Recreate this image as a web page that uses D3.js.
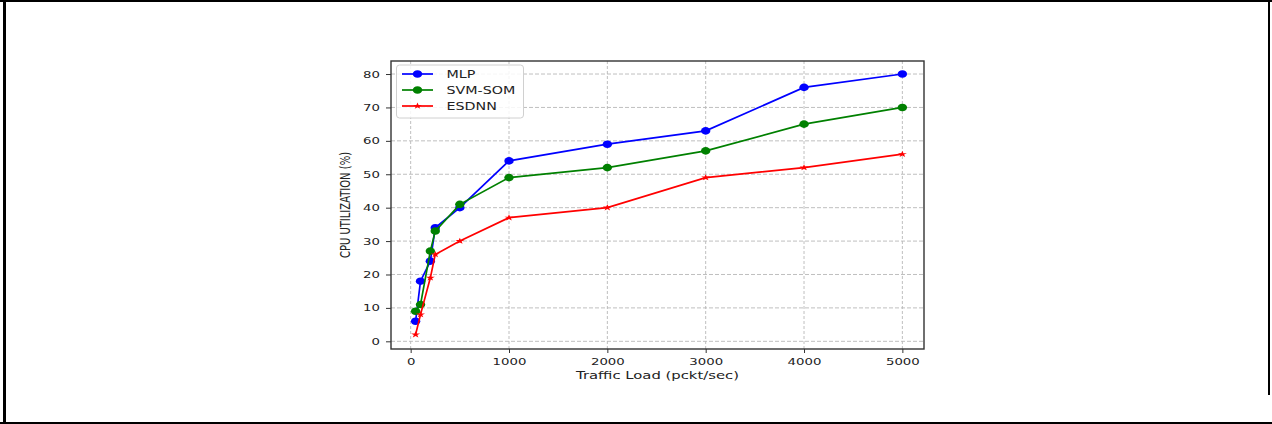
<!DOCTYPE html>
<html>
<head>
<meta charset="utf-8">
<script src="https://cdn.jsdelivr.net/npm/d3@7"></script>
<style>
html,body{margin:0;padding:0;background:#fff;}
svg{display:block;}
text{font-family:"DejaVu Sans",sans-serif;fill:#222;}
</style>
</head>
<body>
<svg id="chart" width="1272" height="424"></svg>
<script>
const trafficLoad = [50, 100, 200, 250, 500, 1000, 2000, 3000, 4000, 5000];
const mlp    = [6, 18, 24, 34, 40, 54, 59, 63, 76, 80];
const svmSom = [9, 11, 27, 33, 41, 49, 52, 57, 65, 70];
const esdnn  = [2, 8, 19, 26, 30, 37, 40, 49, 52, 56];
const seriesNames = ["MLP", "SVM-SOM", "ESDNN"];
const xTicks = [0, 1000, 2000, 3000, 4000, 5000];
const yTicks = [0, 10, 20, 30, 40, 50, 60, 70, 80];
const xLabel = "Traffic Load (pckt/sec)";
const yLabel = "CPU UTILIZATION (%)";

const series = [
  {name: seriesNames[0], values: mlp, color: "#0000ff", marker: "circle"},
  {name: seriesNames[1], values: svmSom, color: "#008000", marker: "circle"},
  {name: seriesNames[2], values: esdnn, color: "#ff0000", marker: "star"}
];

const SX = 1.4; // horizontal stretch of the original figure
const svg = d3.select("#chart");

// outer frame
svg.append("rect").attr("x",0).attr("y",0).attr("width",1272).attr("height",2).attr("fill","#000");
svg.append("rect").attr("x",3).attr("y",0).attr("width",3).attr("height",424).attr("fill","#000");
svg.append("rect").attr("x",0).attr("y",422).attr("width",1272).attr("height",2).attr("fill","#000");
svg.append("rect").attr("x",1268).attr("y",0).attr("width",2).attr("height",395).attr("fill","#000");

const L = 391, R = 924, T = 61, B = 349;
const x = d3.scaleLinear().domain([-200, 5220]).range([L, R]);
const y = d3.scaleLinear().domain([-2.3, 83.9]).range([B, T]);

// grid
const grid = svg.append("g");
grid.selectAll(".gx").data(xTicks).enter().append("line")
  .attr("x1", d=>x(d)).attr("x2", d=>x(d)).attr("y1", T).attr("y2", B)
  .attr("stroke","#b8b8b8").attr("stroke-width",0.9).attr("stroke-dasharray","3,2");
grid.selectAll(".gy").data(yTicks).enter().append("line")
  .attr("x1", L).attr("x2", R).attr("y1", d=>y(d)).attr("y2", d=>y(d))
  .attr("stroke","#b8b8b8").attr("stroke-width",0.9).attr("stroke-dasharray","4,2");

// axes via d3 axis, then stretch labels
const xAxis = svg.append("g").attr("transform",`translate(0,${B})`)
  .call(d3.axisBottom(x).tickValues(xTicks).tickSize(4).tickPadding(5).tickFormat(d3.format("d")));
const yAxis = svg.append("g").attr("transform",`translate(${L},0)`)
  .call(d3.axisLeft(y).tickValues(yTicks).tickSize(5).tickPadding(6).tickFormat(d3.format("d")));
[xAxis, yAxis].forEach(g => {
  g.select(".domain").remove();
  g.selectAll(".tick line").attr("stroke","#333").attr("stroke-width",1);
  g.selectAll(".tick text").attr("font-size","9.5px").attr("fill","#333")
    .attr("font-family","DejaVu Sans, sans-serif");
});
xAxis.selectAll(".tick text").each(function(){
  d3.select(this).attr("transform", `scale(${SX},1)`);
});
yAxis.selectAll(".tick text").each(function(){
  const t = d3.select(this);
  const xx = +t.attr("x");
  t.attr("x", xx/SX).attr("transform", `scale(${SX},1)`);
});

// lines and markers
const line = d3.line().x((d,i)=>x(trafficLoad[i])).y(d=>y(d));
const star = d3.symbol().type(d3.symbolStar).size(13);
series.forEach(s => {
  const g = svg.append("g");
  g.append("path").datum(s.values).attr("d", line)
    .attr("fill","none").attr("stroke", s.color).attr("stroke-width",1.7);
  if (s.marker === "circle") {
    g.selectAll("ellipse").data(s.values).enter().append("ellipse")
      .attr("cx",(d,i)=>x(trafficLoad[i])).attr("cy",d=>y(d))
      .attr("rx",4.7).attr("ry",3.8).attr("fill",s.color);
  } else {
    g.selectAll("path.m").data(s.values).enter().append("path").attr("class","m")
      .attr("d", star)
      .attr("transform",(d,i)=>`translate(${x(trafficLoad[i])},${y(d)}) scale(${SX},1)`)
      .attr("fill",s.color);
  }
});

// spines
svg.append("rect").attr("x",L).attr("y",T).attr("width",R-L).attr("height",B-T)
  .attr("fill","none").attr("stroke","#333").attr("stroke-width",1.4);

// axis labels
svg.append("text").attr("transform",`translate(${(L+R)/2},379) scale(${SX},1)`)
  .attr("text-anchor","middle").attr("font-size","10.6px").attr("fill","#333").text(xLabel);
svg.append("text").attr("transform",`translate(350,205) scale(${SX},1) rotate(-90)`)
  .attr("text-anchor","middle").attr("font-size","10px").attr("fill","#333").text(yLabel);

// legend
const lg = svg.append("g");
lg.append("rect").attr("x",396.5).attr("y",65).attr("width",127).attr("height",53)
  .attr("rx",3).attr("fill","#fff").attr("fill-opacity",0.85)
  .attr("stroke","#d0d0d0").attr("stroke-width",1);
const ly = [74, 90, 106];
series.forEach((s,i) => {
  lg.append("line").attr("x1",402).attr("x2",433).attr("y1",ly[i]).attr("y2",ly[i])
    .attr("stroke",s.color).attr("stroke-width",1.7);
  if (s.marker === "circle") {
    lg.append("ellipse").attr("cx",417.5).attr("cy",ly[i]).attr("rx",4.7).attr("ry",3.8).attr("fill",s.color);
  } else {
    lg.append("path").attr("d",star).attr("transform",`translate(417.5,${ly[i]}) scale(${SX},1)`).attr("fill",s.color);
  }
  lg.append("text").attr("transform",`translate(446.5,${ly[i]+3.8}) scale(${SX},1)`)
    .attr("font-size","10.2px").attr("fill","#222").text(s.name);
});
</script>
</body>
</html>
